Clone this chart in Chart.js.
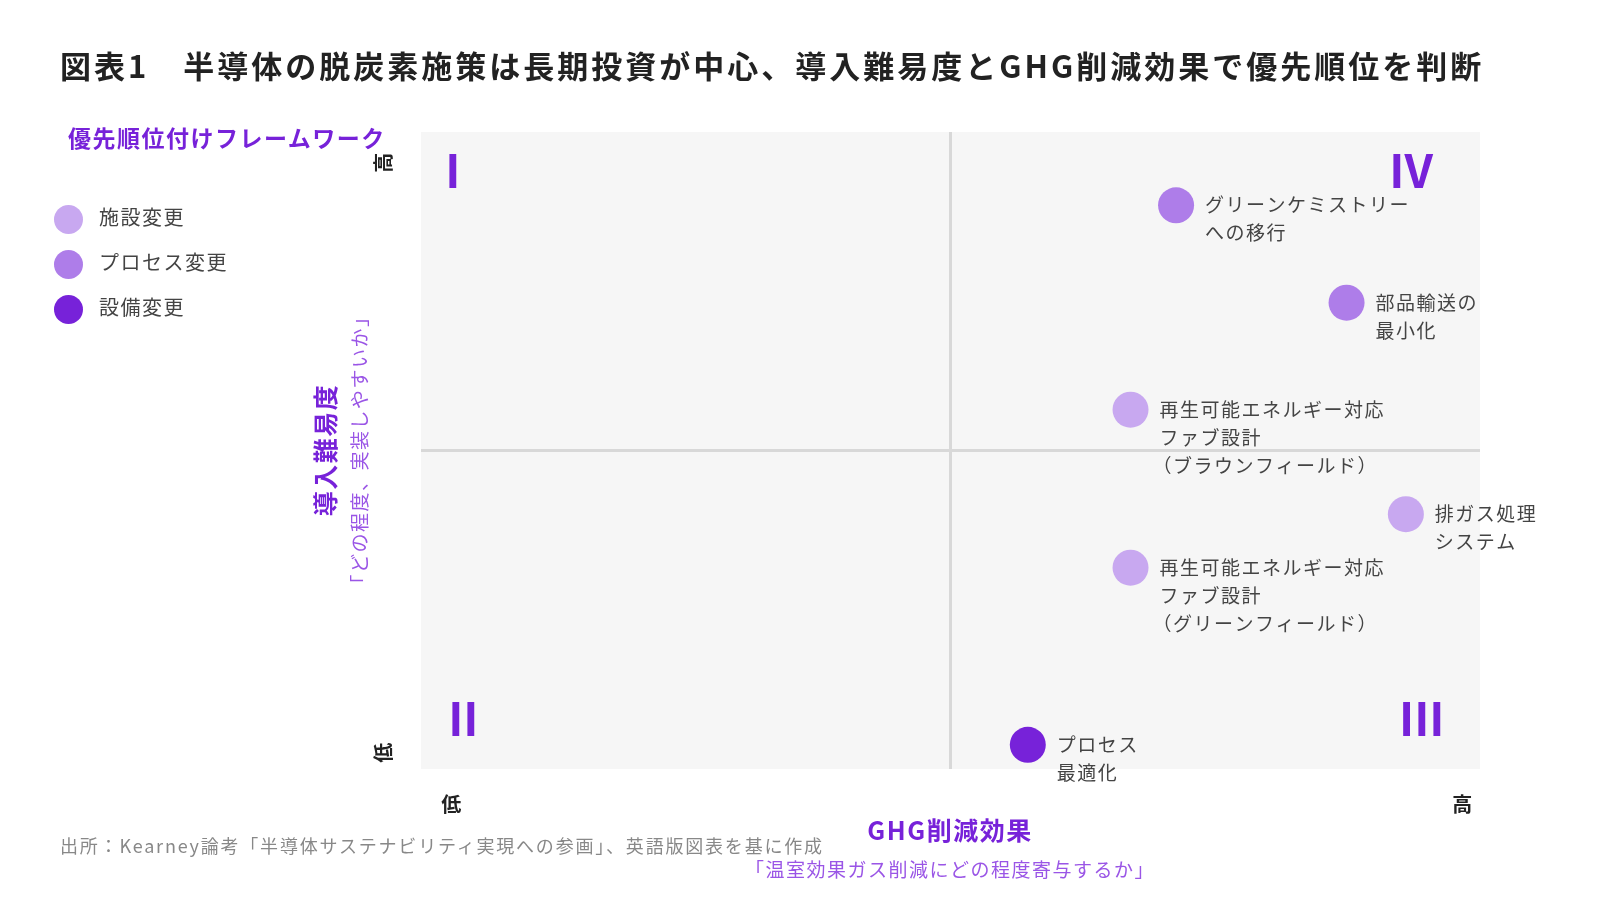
<!DOCTYPE html>
<html><head><meta charset="utf-8">
<script src="https://cdn.jsdelivr.net/npm/chart.js@4"></script>
<style>
body{margin:0;width:1600px;height:900px;background:#fff;font-family:"Noto Sans CJK JP",sans-serif;position:relative;overflow:hidden}
#c{position:absolute;left:0;top:0}
.t{position:absolute;white-space:nowrap}
</style></head><body>
<canvas id="c" width="1600" height="900"></canvas>
<div class="t" style="left:60px;top:42px;font-size:31px;font-weight:bold;color:#222;letter-spacing:3px">図表1　半導体の脱炭素施策は長期投資が中心、導入難易度とGHG削減効果で優先順位を判断</div>
<div class="t" style="left:68px;top:120px;font-size:23px;font-weight:bold;color:#7722d9;letter-spacing:1.5px">優先順位付けフレームワーク</div>
<div class="t" style="left:60px;top:832px;font-size:18px;color:#888;letter-spacing:1.8px">出所：Kearney論考「半導体サステナビリティ実現への参画」、英語版図表を基に作成</div>
<script>
const categories=["施設変更","プロセス変更","設備変更"];
const colors=["#c8a8f0","#ae7de9","#7722d9"];
const labels=[["グリーンケミストリー","への移行"],["部品輸送の","最小化"],["再生可能エネルギー対応","ファブ設計","（ブラウンフィールド）"],["排ガス処理","システム"],["再生可能エネルギー対応","ファブ設計","（グリーンフィールド）"],["プロセス","最適化"]];
const xVals=[71.3,87.4,67.0,93.0,67.0,57.3];
const yVals=[88.5,73.2,56.4,40.0,31.6,3.8];
const groups=[1,1,0,0,0,2];
const quadrants=[["I",3,94],["II",4,8],["III",94.5,8],["IV",93.5,94]];
const datasets=categories.map((c,gi)=>({label:c,backgroundColor:colors[gi],borderWidth:0,pointRadius:18,pointHoverRadius:18,
 data:xVals.map((x,i)=>({x,y:yVals[i],l:labels[i]})).filter((d,i)=>groups[i]===gi)}));
const F='"Noto Sans CJK JP",sans-serif';
const plug={id:'deco',
beforeDatasetsDraw(ch){const{ctx,chartArea:a,scales:{x,y}}=ch;ctx.save();
 ctx.fillStyle='#f6f6f6';ctx.fillRect(a.left,a.top,a.right-a.left,a.bottom-a.top);
 ctx.strokeStyle='#d8d8d8';ctx.lineWidth=3;ctx.beginPath();
 ctx.moveTo(x.getPixelForValue(50),a.top);ctx.lineTo(x.getPixelForValue(50),a.bottom);
 ctx.moveTo(a.left,y.getPixelForValue(50));ctx.lineTo(a.right,y.getPixelForValue(50));ctx.stroke();
 ctx.fillStyle='#7722d9';ctx.font='bold 46px '+F;ctx.textAlign='center';ctx.textBaseline='middle';
 quadrants.forEach(q=>ctx.fillText(q[0],x.getPixelForValue(q[1]),y.getPixelForValue(q[2])));
 ctx.restore();},
afterDatasetsDraw(ch){const{ctx,chartArea:a,scales:{x,y}}=ch;ctx.save();
 ctx.letterSpacing='1.5px';
 ctx.fillStyle='#444';ctx.font='19px '+F;ctx.textBaseline='middle';ctx.textAlign='left';
 ch.data.datasets.forEach(ds=>ds.data.forEach(d=>{const px=x.getPixelForValue(d.x),py=y.getPixelForValue(d.y);
  d.l.forEach((t,i)=>ctx.fillText(t,px+(t.startsWith('（')?22:29),py+i*28));}));
 ctx.fillStyle='#222';ctx.font='bold 20px '+F;ctx.textAlign='center';
 ctx.fillText('低',452,804);ctx.fillText('高',1463,804);
 ctx.fillStyle='#7722d9';ctx.font='bold 25px '+F;ctx.fillText('GHG削減効果',950,830);
 ctx.fillStyle='#9a55e6';ctx.font='19px '+F;ctx.fillText('「温室効果ガス削減にどの程度寄与するか」',950,870);
 const rot=(t,cx,cy,font,col)=>{ctx.save();ctx.translate(cx,cy);ctx.rotate(-Math.PI/2);ctx.font=font;ctx.fillStyle=col;ctx.fillText(t,0,0);ctx.restore();};
 rot('導入難易度',325,450,'bold 25px '+F,'#7722d9');
 rot('「どの程度、実装しやすいか」',360,450,'19px '+F,'#9a55e6');
 rot('高',383,162,'bold 20px '+F,'#222');rot('低',383,752,'bold 20px '+F,'#222');
 ctx.restore();}};
new Chart(document.getElementById('c'),{type:'scatter',data:{datasets},plugins:[plug],
options:{responsive:false,animation:false,devicePixelRatio:1,
layout:{padding:{left:421,right:120,top:132,bottom:131}},
scales:{x:{display:false,min:0,max:100},y:{display:false,min:0,max:100}},
plugins:{tooltip:{enabled:false},legend:{display:false}}}});
</script>
<div class="t" style="left:54px;top:194px;font-size:20px;color:#444;line-height:45px;letter-spacing:1.5px">
<div><span style="display:inline-block;width:29px;height:29px;border-radius:50%;background:#c8a8f0;vertical-align:middle;margin-right:16px"></span>施設変更</div>
<div><span style="display:inline-block;width:29px;height:29px;border-radius:50%;background:#ae7de9;vertical-align:middle;margin-right:16px"></span>プロセス変更</div>
<div><span style="display:inline-block;width:29px;height:29px;border-radius:50%;background:#7722d9;vertical-align:middle;margin-right:16px"></span>設備変更</div>
</div>
</body></html>
